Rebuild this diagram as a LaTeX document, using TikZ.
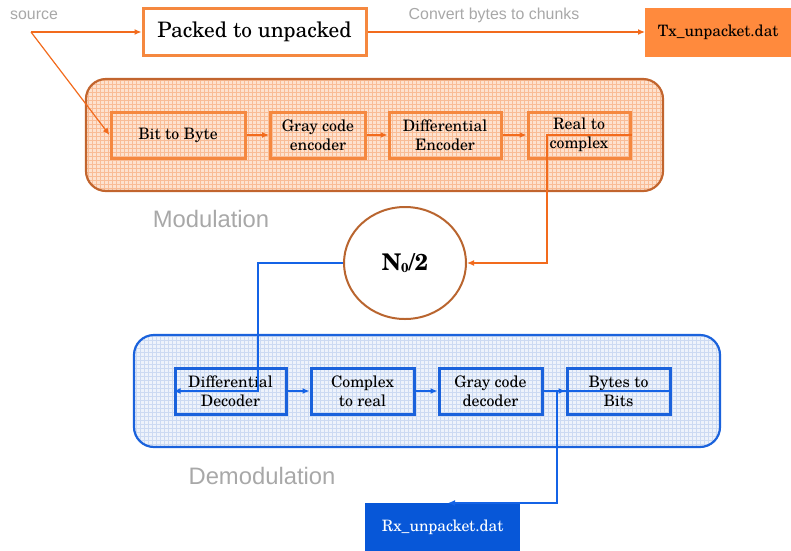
\documentclass[tikz,border=0pt]{standalone}
\usepackage{fontspec}
\setmainfont{TeX Gyre Schola}
\newfontfamily\lsans{Liberation Sans}
\usetikzlibrary{arrows.meta,calc,shapes.geometric}
\definecolor{oline}{HTML}{F26B1D}
\definecolor{obox}{HTML}{F5883F}
\definecolor{ocont}{HTML}{C2652E}
\definecolor{ofill}{HTML}{FDE2CF}
\definecolor{ogrid}{HTML}{F9BC96}
\definecolor{txfill}{HTML}{FF8A3D}
\definecolor{bline}{HTML}{1463E6}
\definecolor{bbox}{HTML}{1A62DC}
\definecolor{bfill}{HTML}{EEF3FB}
\definecolor{bgrid}{HTML}{CCDAF2}
\definecolor{rxfill}{HTML}{0757D8}
\definecolor{circ}{HTML}{B9652F}
\definecolor{gtext}{HTML}{A8A8A8}
\tikzset{
  oarrow/.style={draw=oline, line width=1.2pt, -{Latex[length=7pt,width=6pt]}},
  barrow/.style={draw=bline, line width=1.2pt, -{Latex[length=7pt,width=6pt]}},
  obk/.style={draw=obox, line width=3pt, minimum height=46pt, align=center, font=\fontsize{15.8}{19}\selectfont, inner sep=1pt},
  bbk/.style={draw=bbox, line width=3pt, minimum height=46pt, align=center, font=\fontsize{15.8}{19}\selectfont, inner sep=1pt},
  glabel/.style={text=gtext, font=\lsans\fontsize{15.9}{17}\selectfont, inner sep=0pt},
  bigglabel/.style={text=gtext, font=\lsans\fontsize{23.8}{26}\selectfont, inner sep=0pt},
  cont/.style={line width=2.2pt, rounded corners=20pt},
  gridlines/.style={line width=0.8pt, step=4pt},
}
\begin{document}
\begin{tikzpicture}[x=1pt,y=-1pt]
\useasboundingbox (0,0) rectangle (791,550);
% containers
\begin{scope}
\clip[rounded corners=20pt] (86,79) rectangle (663,191);
\fill[ofill] (86,79) rectangle (663,191);
\draw[ogrid, gridlines] (86,191) grid (663,79);
\end{scope}
\draw[cont, draw=ocont] (86,79) rectangle (663,191);
\begin{scope}
\clip[rounded corners=20pt] (134,335) rectangle (720,447);
\fill[bfill] (134,335) rectangle (720,447);
\draw[bgrid, gridlines] (134,447) grid (720,335);
\end{scope}
\draw[cont, draw=bbox] (134,335) rectangle (720,447);
% top row
\node[glabel, anchor=west] (src) at (10,15) {source};
\coordinate (s) at (31,32);
\node[draw=obox, line width=3pt, fill=white, minimum width=223pt, minimum height=47pt, font=\fontsize{21.3}{24}\selectfont] (p2u) at (254.5,32) {Packed to unpacked};
\node[fill=txfill, minimum width=146pt, minimum height=49pt, font=\fontsize{15.7}{17}\selectfont, anchor=west] (tx) at (645,32) {Tx\_unpacket.dat};
\node[glabel] (cvt) at (494,15) {Convert bytes to chunks};
% modulation boxes
\node[obk, minimum width=134pt] (b2b) at (178,135) {Bit to Byte};
\node[obk, minimum width=95pt] (gce) at (318,135) {Gray code\\encoder};
\node[obk, minimum width=112pt] (den) at (445,135) {Differential\\Encoder};
\node[obk, minimum width=102pt] (r2c) at (579,135) {Real to\\complex};
\node[bigglabel] (mod) at (211,219) {Modulation};
% channel
\node[draw=circ, line width=2pt, ellipse, minimum width=122pt, minimum height=112pt, font=\bfseries\fontsize{23}{26}\selectfont, inner sep=0pt] (ch) at (405,263) {N\raisebox{-0.15ex}{\fontsize{13}{13}\selectfont 0}/2};
% demodulation boxes
\node[bbk, minimum width=111pt] (dde) at (230.5,391) {Differential\\Decoder};
\node[bbk, minimum width=103pt] (c2r) at (362.5,391) {Complex\\to real};
\node[bbk, minimum width=103pt] (gcd) at (490.5,391) {Gray code\\decoder};
\node[bbk, minimum width=103pt] (bytb) at (618.5,391) {Bytes to\\Bits};
\node[bigglabel] (demod) at (262,476) {Demodulation};
\node[fill=rxfill, text=white, minimum width=155pt, minimum height=48pt, font=\fontsize{15.7}{17}\selectfont, anchor=north west, inner sep=0pt] (rx) at (365,503) {Rx\_unpacket.dat};
% connectors top
\draw[oarrow] (s) -- (p2u.west);
\draw[oarrow] (s) -- (b2b.west);
\draw[oarrow] (p2u.east) -- (tx.west);
\draw[oarrow] (b2b.east) -- (gce.west);
\draw[oarrow] (gce.east) -- (den.west);
\draw[oarrow] (den.east) -- (r2c.west);
\draw[oarrow] (r2c.east) -- (547,135) -- (547,263) -- (ch.east);
% connectors bottom
\draw[barrow] (ch.west) -- (258,263) -- (258,391) -- (dde.west);
\draw[barrow] (dde.east) -- (c2r.west);
\draw[barrow] (c2r.east) -- (gcd.west);
\draw[barrow] (gcd.east) -- (bytb.west);
\coordinate (rxin) at (448,503);
\draw[barrow] (bytb.east) -- (557,391) -- (557,503) -- (rxin);
\end{tikzpicture}
\end{document}
